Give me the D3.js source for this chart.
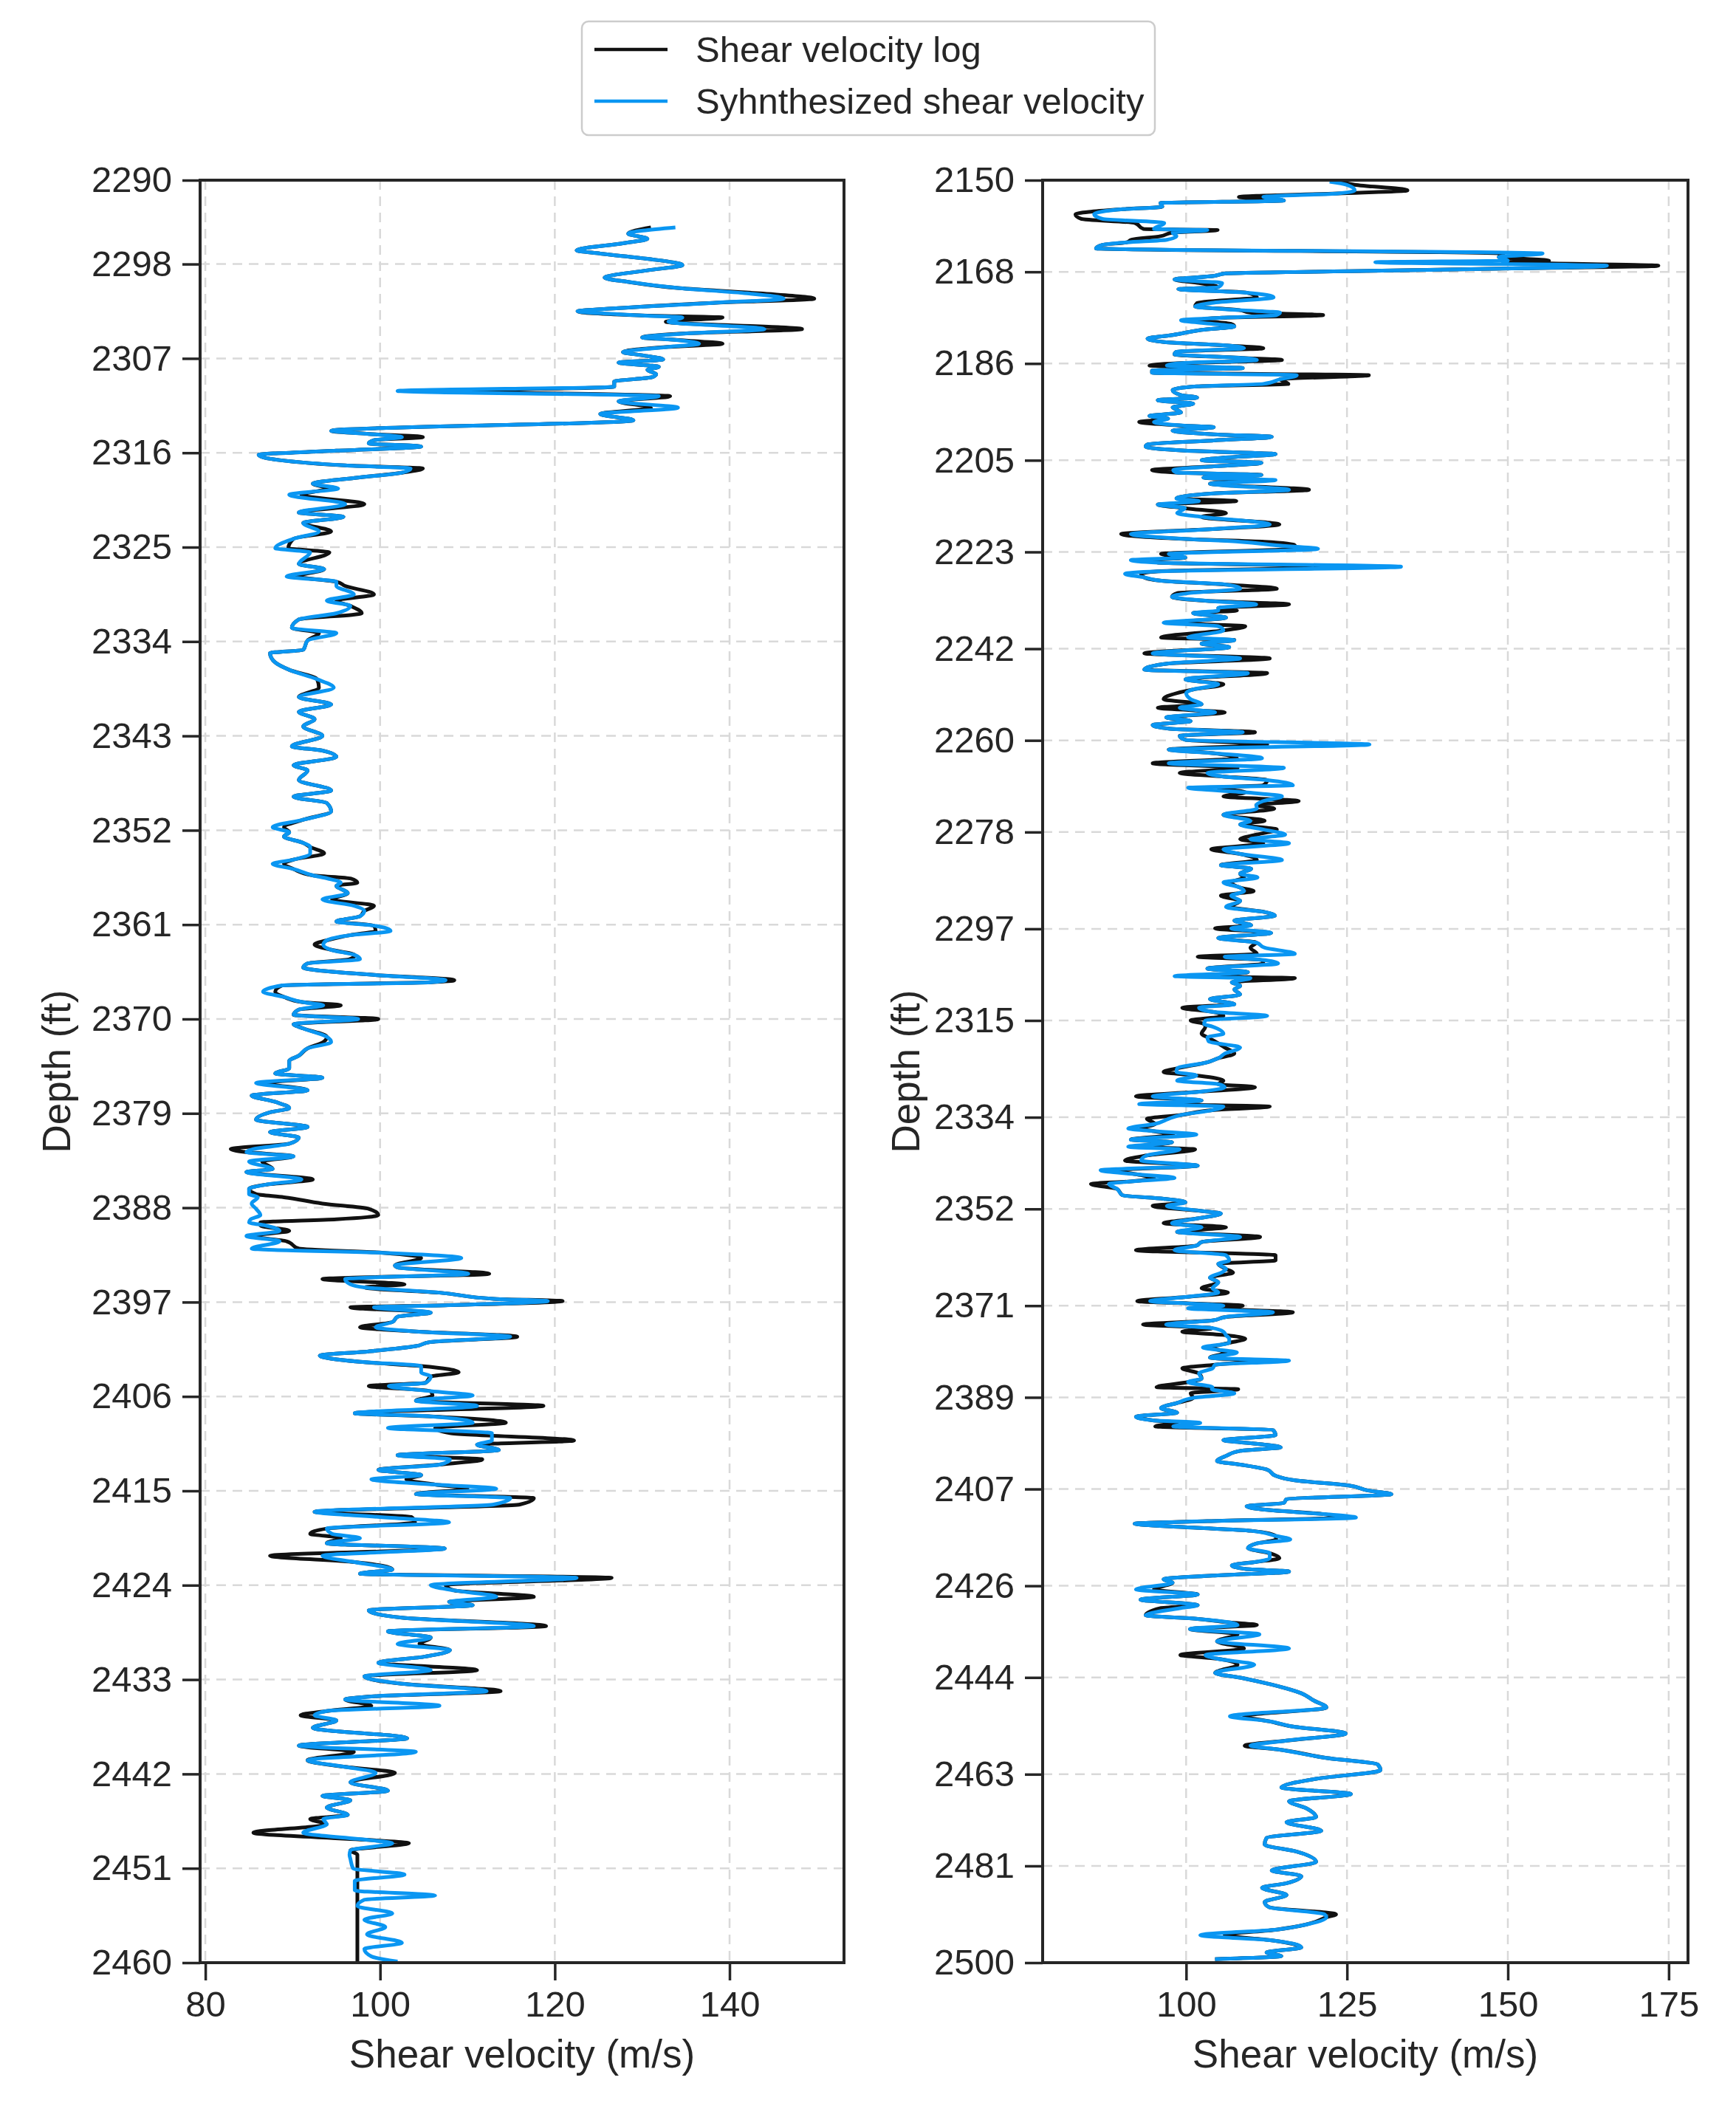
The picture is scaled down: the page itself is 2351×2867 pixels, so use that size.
<!DOCTYPE html>
<html>
<head>
<meta charset="utf-8">
<script src="https://cdn.jsdelivr.net/npm/d3@7"></script>
<style>
  body { margin: 0; background: #ffffff; }
  svg text { font-family: "Liberation Sans", Arial, sans-serif; fill: #262626; }
</style>
</head>
<body>
<div id="chart"></div>
<script>
// depth logs (ft, m/s)

var leftDepth = [
  2294.5,2295.1,2295.6,2296.0,2296.7,2297.0,2297.5,2298.1,2298.6,2299.3,
  2299.7,2300.3,2300.8,2301.3,2301.7,2302.2,2302.5,2302.9,2303.1,2303.5,
  2304.2,2304.6,2305.0,2305.2,2305.6,2305.9,2306.4,2306.7,2307.1,2307.4,
  2307.8,2308.1,2308.5,2308.8,2309.2,2309.7,2310.1,2310.6,2311.1,2311.7,
  2312.3,2312.9,2313.9,2314.2,2314.5,2314.8,2315.1,2315.4,2315.8,2316.2,
  2316.7,2317.2,2317.5,2317.9,2318.4,2318.95,2319.4,2320.0,2320.9,2321.7,
  2322.1,2322.7,2323.5,2324.2,2325.1,2325.5,2326.6,2327.1,2327.8,2328.3,
  2328.7,2329.5,2330.1,2330.6,2331.3,2331.9,2332.7,2333.2,2333.9,2334.8,
  2335.1,2336.0,2336.7,2337.6,2338.4,2339.3,2340.0,2340.7,2341.4,2342.1,
  2343.0,2344.0,2344.4,2345.0,2345.8,2346.3,2347.2,2348.2,2348.8,2349.4,
  2350.2,2351.0,2351.7,2352.2,2352.6,2353.2,2353.6,2354.2,2354.8,2355.2,
  2355.7,2356.3,2356.6,2357.0,2357.3,2358.0,2358.6,2359.2,2359.7,2360.2,
  2360.7,2361.1,2361.6,2362.0,2362.5,2362.9,2363.4,2363.9,2364.3,2364.7,
  2365.1,2365.3,2365.8,2366.3,2366.5,2366.8,2367.4,2367.9,2368.4,2368.7,
  2369.1,2369.6,2370.0,2370.5,2370.9,2371.7,2372.2,2372.8,2373.5,2374.0,
  2374.7,2375.2,2375.6,2376.1,2376.8,2377.3,2377.9,2378.5,2378.9,2379.6,
  2380.3,2380.8,2381.3,2381.9,2382.4,2382.7,2383.1,2383.6,2384.3,2384.6,
  2385.3,2385.8,2386.2,2386.7,2387.0,2387.6,2388.1,2388.7,2389.1,2389.4,
  2389.7,2390.2,2390.7,2391.2,2391.9,2392.3,2392.8,2393.5,2393.7,2394.3,
  2394.8,2395.3,2395.6,2396.1,2396.7,2396.9,2397.3,2397.5,2398.0,2398.4,
  2398.9,2399.4,2399.8,2400.3,2400.8,2401.2,2401.7,2402.1,2402.7,2403.1,
  2403.7,2404.1,2404.7,2405.0,2405.5,2405.9,2406.4,2406.9,2407.6,2407.9,
  2408.5,2409.0,2409.5,2410.2,2410.6,2411.1,2411.6,2412.0,2412.5,2413.0,
  2413.5,2413.9,2414.4,2414.8,2415.3,2415.7,2416.3,2417.0,2417.5,2418.0,
  2418.6,2419.1,2419.5,2420.0,2420.5,2421.2,2421.8,2422.5,2422.9,2423.3,
  2424.0,2424.5,2425.1,2425.6,2425.9,2426.4,2427.1,2427.9,2428.4,2429.0,
  2429.6,2430.2,2430.8,2431.4,2432.1,2432.7,2433.4,2434.1,2434.6,2434.9,
  2435.5,2436.0,2436.4,2436.9,2437.6,2438.6,2439.3,2439.9,2440.7,2441.3,
  2441.9,2442.8,2443.6,2444.1,2444.5,2445.2,2445.9,2446.3,2446.8,2447.6,
  2448.3,2448.6,2449.3,2449.7,2450.1,2451.0,2451.6,2452.2,2453.1,2453.6,
  2454.0,2454.6,2455.3,2455.9,2456.6,2457.3,2458.1,2458.7,2459.4,2459.9
];

var leftLog = [
  131.0,128.4,130.6,127.9,122.5,125.2,130.6,134.6,130.6,125.7,
  128.4,134.3,143.5,149.7,138.1,127.3,122.6,130.0,139.2,132.7,
  148.3,135.4,130.0,133.2,139.2,133.0,127.8,130.0,132.4,127.3,
  131.9,130.6,131.6,131.1,126.8,126.8,109.0,133.2,127.3,131.0,
  125.2,129.0,94.4,98.7,104.9,99.3,98.7,104.7,95.0,86.1,
  88.5,96.0,104.9,102.5,97.1,92.3,94.0,91.0,98.2,90.7,
  95.8,91.2,94.4,90.1,89.5,94.2,90.7,93.6,90.5,95.0,
  96.0,99.3,95.0,96.6,97.9,90.7,89.9,93.0,91.7,91.2,
  87.4,88.0,89.6,92.8,93.0,90.7,94.4,90.7,92.5,91.2,
  93.4,89.9,93.4,95.0,90.1,91.7,90.7,94.4,90.1,93.9,
  94.4,91.2,89.0,89.6,89.0,91.2,92.0,93.6,90.1,89.0,
  90.1,92.3,96.6,97.4,95.0,96.3,94.5,99.3,98.2,97.7,
  95.0,99.3,99.5,96.6,93.9,92.5,94.4,97.1,96.5,91.7,
  91.2,92.3,99.3,108.5,105.8,88.8,88.0,89.0,91.2,95.5,
  90.7,90.1,99.8,90.1,91.2,93.9,93.5,91.7,90.7,89.6,
  89.6,88.0,93.4,87.0,91.7,85.3,88.0,89.6,87.4,85.8,
  91.7,87.4,90.7,89.6,82.9,84.7,90.1,86.5,87.7,84.7,
  92.3,86.9,85.0,85.8,89.0,93.4,98.7,99.8,95.0,86.3,
  86.3,89.6,85.3,89.3,90.7,100.4,104.7,101.7,102.0,112.5,
  93.4,102.8,98.2,106.8,113.3,120.9,107.4,96.6,105.8,102.0,
  101.4,97.7,104.1,115.7,105.8,104.1,98.7,93.1,97.7,104.7,
  109.0,105.8,105.2,98.7,105.8,106.0,104.1,118.7,97.1,105.8,
  114.4,106.3,108.0,122.2,111.1,113.6,102.0,111.7,106.8,99.8,
  104.7,103.0,106.3,110.0,104.1,117.6,116.0,92.5,103.6,104.0,
  93.9,92.0,95.5,93.9,107.4,87.4,97.1,101.4,97.7,126.5,
  107.5,108.5,117.6,107.9,110.6,98.7,102.5,119.0,100.9,105.8,
  104.5,108.0,105.2,99.8,111.1,98.2,102.5,113.8,99.3,96.0,
  99.0,93.9,90.9,95.0,92.3,103.1,90.7,97.0,91.7,95.8,
  101.7,96.6,100.9,93.4,96.6,93.9,96.3,92.0,93.9,85.5,
  98.7,103.3,96.6,97.4,97.4,97.4,97.4,97.4,97.4,97.4,
  97.4,97.4,97.4,97.4,97.4,97.4,97.4,97.4,97.4,97.4
];

var leftSynth = [
  133.8,128.4,130.6,127.9,122.5,125.2,130.6,134.6,130.6,125.7,
  128.4,134.3,142.0,146.2,138.1,127.3,122.6,130.0,134.6,133.0,
  144.0,135.4,130.0,133.2,136.5,133.0,127.8,130.0,132.4,127.3,
  131.9,130.6,131.6,131.1,126.8,126.8,102.0,131.9,127.3,134.1,
  125.2,129.0,94.4,98.7,102.5,99.3,98.7,104.7,95.0,86.1,
  88.5,96.0,103.5,102.5,97.1,92.3,95.2,89.6,96.0,90.7,
  95.8,91.2,93.0,90.1,88.0,92.0,90.7,93.6,89.3,95.0,
  95.0,97.0,93.9,96.6,95.0,90.7,89.9,95.0,91.7,91.2,
  87.4,88.0,89.6,92.8,94.7,90.7,94.4,90.7,92.5,91.2,
  93.4,89.9,93.4,95.0,90.1,91.7,90.7,94.4,90.1,93.9,
  94.4,91.2,87.7,89.6,89.0,91.2,92.0,92.0,90.1,87.7,
  90.1,92.3,94.0,95.5,95.0,96.3,93.4,97.0,98.2,97.7,
  95.0,99.3,101.2,96.6,93.9,93.5,94.4,97.1,97.7,91.7,
  91.2,92.3,99.3,107.5,105.8,88.8,86.6,89.0,91.2,93.5,
  90.7,90.1,97.5,90.1,91.2,93.9,94.4,91.7,90.7,89.6,
  89.6,88.0,93.4,85.8,91.7,85.3,88.0,89.6,87.4,85.8,
  91.7,87.4,90.7,89.6,85.5,84.7,90.1,85.0,87.7,84.7,
  91.0,86.9,85.0,85.0,86.0,85.3,85.8,86.3,85.2,85.0,
  86.9,88.5,84.7,88.5,85.3,100.4,109.3,101.7,102.0,110.1,
  96.0,96.6,98.2,106.8,113.3,119.2,107.4,99.3,105.8,102.0,
  101.4,99.5,104.1,114.9,105.8,104.1,98.7,93.1,97.7,104.7,
  104.7,105.8,105.2,101.0,105.8,110.6,104.1,111.1,97.1,105.8,
  110.6,100.9,112.8,112.8,111.1,113.6,102.0,108.0,106.8,99.8,
  104.7,99.0,106.3,113.3,104.1,114.9,113.0,92.5,100.0,107.9,
  93.9,94.5,97.7,93.9,107.4,93.4,97.1,101.4,97.7,122.5,
  105.8,108.5,113.3,107.9,110.6,98.7,102.5,117.6,100.9,105.8,
  102.0,108.0,105.2,99.8,105.8,98.2,102.5,112.2,99.3,96.0,
  106.8,93.9,92.5,95.0,92.3,103.1,90.7,104.1,91.7,95.8,
  99.5,96.6,100.9,93.4,96.6,93.9,96.3,93.5,93.9,91.2,
  98.7,101.4,96.6,96.5,96.6,96.9,102.8,97.1,97.1,106.3,
  98.2,97.4,101.4,98.2,100.6,98.5,102.5,98.2,99.0,102.0
];

var rightDepth = [
  2150.3,2150.9,2152.0,2152.6,2153.3,2154.0,2154.5,2155.2,2155.7,2156.7,
  2157.6,2158.4,2159.6,2159.8,2160.3,2161.0,2161.7,2162.2,2162.7,2163.4,
  2164.4,2165.1,2165.8,2166.1,2166.8,2167.3,2167.8,2168.3,2168.8,2169.5,
  2170.2,2171.0,2171.4,2172.1,2173.0,2174.1,2174.8,2175.5,2176.0,2176.5,
  2177.0,2177.5,2178.2,2178.7,2179.4,2180.4,2181.1,2181.8,2182.5,2183.0,
  2183.7,2184.2,2184.9,2185.3,2185.9,2186.4,2186.9,2187.4,2187.8,2188.3,
  2189.1,2190.0,2190.5,2191.2,2192.2,2192.7,2193.2,2193.9,2194.6,2195.6,
  2196.3,2196.8,2197.5,2198.2,2198.5,2199.2,2199.9,2200.4,2201.1,2201.9,
  2202.3,2203.1,2203.8,2204.5,2205.0,2205.5,2206.2,2206.9,2207.4,2207.9,
  2208.4,2208.9,2209.6,2210.8,2211.5,2212.5,2213.0,2213.7,2214.4,2215.4,
  2216.1,2217.6,2218.5,2219.5,2220.5,2221.0,2221.7,2222.4,2223.4,2224.1,
  2224.6,2225.1,2225.9,2226.8,2227.3,2228.0,2228.7,2229.4,2230.2,2231.1,
  2231.8,2232.6,2233.3,2234.0,2234.5,2235.0,2235.9,2236.9,2237.6,2238.4,
  2239.8,2240.3,2241.0,2241.7,2242.9,2243.9,2244.9,2246.1,2246.8,2248.0,
  2249.0,2250.0,2250.7,2251.9,2252.9,2253.6,2254.5,2255.5,2256.2,2257.0,
  2257.7,2258.4,2259.1,2259.9,2260.8,2261.8,2262.5,2263.5,2264.5,2265.4,
  2266.4,2267.1,2267.8,2268.8,2269.3,2270.2,2271.0,2271.9,2272.7,2273.4,
  2274.6,2275.8,2276.5,2277.5,2278.5,2279.4,2280.2,2281.4,2282.3,2283.5,
  2284.5,2285.2,2286.2,2286.9,2287.9,2288.9,2289.6,2290.5,2291.5,2292.7,
  2293.7,2294.4,2295.4,2296.3,2296.9,2297.8,2298.8,2299.7,2300.7,2301.9,
  2302.5,2303.1,2303.8,2304.8,2305.5,2306.3,2306.7,2307.5,2308.2,2308.9,
  2309.9,2310.8,2311.8,2312.5,2313.3,2314.1,2315.0,2315.7,2316.2,2317.6,
  2318.3,2319.1,2320.3,2321.5,2322.4,2323.2,2324.4,2325.1,2325.8,2326.8,
  2327.5,2328.1,2329.0,2329.9,2330.7,2331.4,2331.9,2332.6,2333.6,2334.3,
  2335.3,2336.2,2336.7,2337.4,2338.4,2338.9,2339.8,2340.3,2341.5,2342.5,
  2343.5,2344.4,2345.2,2345.9,2346.6,2347.1,2348.1,2349.3,2350.0,2350.7,
  2351.4,2352.4,2352.9,2353.9,2354.8,2355.6,2356.5,2357.5,2358.5,2359.2,
  2360.1,2361.1,2362.1,2362.8,2363.8,2364.5,2365.5,2366.4,2367.6,2368.4,
  2369.3,2370.1,2371.0,2371.5,2372.3,2373.2,2373.9,2374.7,2375.4,2376.1,
  2376.8,2377.5,2378.3,2379.2,2380.2,2381.2,2381.8,2382.6,2383.3,2384.3,
  2385.3,2386.0,2387.0,2387.4,2388.2,2389.1,2390.1,2391.1,2392.0,2392.8,
  2393.5,2394.0,2394.7,2395.4,2396.4,2397.4,2398.1,2398.8,2399.5,2400.5,
  2401.5,2402.2,2403.2,2404.4,2405.3,2406.3,2407.3,2408.0,2409.0,2409.7,
  2410.4,2411.1,2411.9,2412.6,2413.3,2413.8,2414.5,2415.2,2416.2,2416.9,
  2417.7,2418.6,2419.6,2420.6,2421.3,2422.0,2422.7,2423.2,2424.0,2424.7,
  2425.4,2426.7,2427.7,2428.7,2429.8,2430.4,2431.8,2432.5,2433.2,2433.7,
  2434.5,2435.5,2436.9,2438.3,2439.6,2440.3,2441.5,2443.1,2444.1,2445.4,
  2447.1,2448.5,2449.9,2451.6,2452.6,2453.6,2455.0,2456.4,2457.4,2458.1,
  2459.8,2461.1,2462.2,2463.9,2465.6,2466.9,2468.3,2469.7,2471.4,2472.4,
  2474.1,2475.5,2476.8,2478.2,2480.2,2481.9,2483.0,2484.4,2485.3,2486.7,
  2488.1,2489.1,2490.5,2491.1,2492.5,2493.5,2494.6,2495.6,2497.0,2498.0,
  2498.7,2499.3
];

var rightLog = [
  123.9,126.2,134.4,123.6,108.2,115.2,96.0,96.3,90.2,82.8,
  83.7,92.0,93.4,104.9,97.9,96.0,91.5,90.8,87.0,86.0,
  149.3,148.6,156.4,150.0,173.4,152.5,128.7,106.2,104.3,98.2,
  102.0,105.0,98.8,109.4,111.0,101.7,101.4,108.2,110.0,121.3,
  105.6,102.0,106.9,107.5,102.4,97.9,94.0,96.6,106.9,112.0,
  98.5,98.2,108.8,114.9,99.8,94.3,108.8,94.7,94.7,128.4,
  114.6,115.9,101.7,97.9,99.2,101.7,95.6,101.1,97.9,99.2,
  94.3,97.2,92.7,99.8,104.3,97.9,104.3,113.3,104.3,94.0,
  93.7,99.8,113.9,105.6,102.4,111.7,104.3,94.7,98.5,111.7,
  102.7,110.0,103.7,119.1,104.3,98.5,107.8,95.6,99.8,106.2,
  102.4,114.5,104.1,89.9,100.7,112.2,116.9,116.0,96.1,99.9,
  95.0,95.6,127.5,95.6,93.0,93.5,96.5,106.2,114.1,98.6,
  97.8,103.3,116.0,105.0,107.9,101.1,106.2,98.0,109.2,105.8,
  96.1,107.5,102.4,106.7,93.5,113.0,97.3,93.5,112.6,99.9,
  105.8,101.1,98.6,96.5,102.4,95.6,106.0,96.9,100.7,94.8,
  97.3,110.7,99.0,99.9,112.6,97.3,104.1,107.9,94.8,108.0,
  99.0,105.8,112.6,112.0,105.0,109.2,105.8,117.5,110.9,113.7,
  105.8,112.2,108.4,114.1,111.0,108.4,112.0,103.9,108.4,111.0,
  105.4,110.1,108.4,109.0,107.0,108.4,110.5,105.4,108.4,107.0,
  112.2,113.8,107.5,110.1,104.5,113.2,105.0,110.9,110.0,111.0,
  101.8,111.8,112.0,103.3,109.6,104.0,116.9,107.1,108.4,107.5,
  108.4,103.7,107.5,99.4,104.1,105.8,100.7,102.8,103.0,102.4,
  103.3,104.5,106.0,107.5,105.0,103.3,98.6,96.5,101.6,105.8,
  105.0,110.7,102.0,92.2,102.4,96.0,113.0,104.1,99.0,93.9,
  95.2,93.0,94.8,98.0,91.4,97.8,93.0,101.4,93.9,90.5,
  101.8,89.0,92.2,95.0,91.4,85.2,89.3,90.1,96.5,99.9,
  94.8,102.4,105.4,101.6,96.5,106.2,98.6,111.5,102.4,101.6,
  92.2,113.9,113.9,105.0,106.2,107.3,103.7,105.0,102.4,106.5,
  99.9,92.4,108.8,104.0,116.6,106.2,104.1,93.3,104.1,99.4,
  106.2,109.2,106.7,104.0,106.2,103.7,110.9,104.5,99.4,102.0,
  102.4,100.3,95.4,108.1,100.7,101.1,98.6,96.1,98.6,92.2,
  94.8,98.6,95.2,113.5,113.9,105.8,110.9,114.7,108.4,106.2,
  104.8,108.4,112.6,113.9,116.9,125.3,128.3,131.9,115.6,115.2,
  109.4,112.6,121.1,123.6,103.3,92.0,99.9,110.1,113.9,114.0,
  110.9,109.6,113.0,114.5,110.9,107.1,109.2,116.0,104.1,96.5,
  97.9,95.0,101.8,92.9,101.8,96.0,93.7,101.8,106.8,111.0,
  100.6,108.0,104.8,109.0,99.1,104.8,108.0,104.5,108.7,113.3,
  117.9,119.8,121.8,109.0,112.9,116.4,124.8,115.6,109.1,114.1,
  121.8,129.8,130.2,120.2,114.8,125.6,116.0,118.7,120.2,115.6,
  121.0,112.5,112.2,117.2,120.2,113.3,117.9,115.6,111.8,115.6,
  112.2,112.9,123.3,121.8,118.7,114.1,106.0,113.3,117.9,112.5,
  114.8,104.5
];

var rightSynth = [
  122.3,124.9,126.2,123.6,112.0,115.2,96.0,96.3,90.2,85.7,
  87.0,96.6,95.0,103.3,97.9,98.5,97.0,90.8,87.0,86.0,
  155.4,148.6,150.0,129.4,165.4,152.5,128.7,106.2,104.3,98.2,
  105.6,105.0,98.8,109.4,113.6,104.0,101.4,108.2,114.6,114.0,
  105.6,99.2,104.0,107.5,102.4,97.9,94.0,96.6,106.9,109.0,
  98.5,98.2,108.8,111.0,99.8,97.0,108.8,94.7,94.7,117.2,
  114.6,112.0,101.7,97.9,99.2,101.7,95.6,101.1,97.9,99.2,
  94.3,97.2,95.0,99.8,104.3,97.9,104.3,113.3,104.3,94.0,
  93.7,99.8,113.9,105.6,102.4,111.7,104.3,98.0,98.5,111.7,
  102.7,113.9,103.7,116.0,104.3,98.5,102.0,95.6,99.8,98.6,
  102.4,113.0,104.1,91.4,100.7,108.4,114.0,120.5,97.3,99.9,
  91.4,95.6,133.4,95.6,90.5,93.5,96.5,106.2,108.4,100.3,
  97.8,103.3,110.9,105.0,105.0,101.1,106.2,96.5,105.0,105.8,
  100.3,107.5,102.4,106.7,94.8,108.4,97.3,93.5,109.6,99.9,
  105.0,101.1,100.0,100.7,102.4,99.0,104.5,96.9,100.7,94.8,
  97.3,108.8,99.0,99.9,128.5,97.3,104.1,111.8,97.3,115.2,
  103.3,105.8,112.6,116.6,100.3,109.2,114.9,112.0,110.9,111.0,
  105.8,110.0,108.4,112.0,115.4,110.0,116.0,105.8,108.4,114.9,
  105.4,110.1,108.4,111.1,105.8,108.4,109.0,107.0,108.4,106.2,
  112.2,113.8,107.5,110.1,107.0,113.2,105.0,110.9,112.2,116.9,
  106.0,111.8,114.3,103.3,109.6,98.2,110.0,107.1,108.4,107.5,
  108.4,103.7,107.5,102.0,104.1,112.6,103.0,102.8,104.1,105.8,
  103.3,103.5,108.4,106.0,105.0,103.3,98.6,98.5,101.6,98.6,
  105.0,106.0,102.0,94.8,102.4,92.7,105.8,104.1,99.0,97.3,
  95.2,91.0,94.8,101.6,91.4,97.8,91.0,99.0,93.9,93.0,
  101.8,86.7,92.2,98.2,91.4,88.0,89.3,90.1,96.5,99.9,
  97.0,102.4,105.4,101.6,97.8,102.4,98.6,108.4,102.4,101.6,
  98.2,106.2,106.7,105.0,106.2,105.5,103.7,105.0,104.1,105.0,
  99.9,94.4,105.8,100.3,113.5,106.2,104.1,96.9,104.1,105.8,
  106.2,106.7,106.7,102.6,107.9,103.7,116.0,104.5,104.1,102.0,
  102.4,100.3,104.1,104.0,107.5,101.1,98.6,96.1,98.6,92.2,
  94.8,102.2,98.0,113.5,113.9,105.8,110.9,114.7,108.4,106.2,
  104.8,108.4,112.6,113.9,116.9,125.3,128.3,131.9,115.6,115.2,
  109.4,112.6,121.1,126.4,103.3,92.0,99.9,110.1,113.9,116.2,
  110.9,109.6,113.0,113.0,110.9,107.1,109.2,116.0,104.1,96.5,
  97.9,92.2,101.8,92.9,101.8,99.0,93.7,101.8,106.8,108.0,
  100.6,111.4,104.8,116.0,103.0,104.8,110.6,104.5,108.7,113.3,
  117.9,119.8,121.8,106.8,112.9,116.4,124.8,115.6,110.0,114.1,
  121.8,129.8,130.2,120.2,114.8,125.6,116.0,118.7,120.2,115.6,
  121.0,112.5,112.2,117.2,120.2,113.3,117.9,115.6,111.8,115.6,
  112.2,112.9,121.5,121.8,118.7,114.1,102.2,113.3,117.9,112.5,
  114.8,104.5
];

var leftDepthTicks = [2290, 2298, 2307, 2316, 2325, 2334, 2343, 2352, 2361, 2370,
  2379, 2388, 2397, 2406, 2415, 2424, 2433, 2442, 2451, 2460];
var rightDepthTicks = [2150, 2168, 2186, 2205, 2223, 2242, 2260, 2278, 2297, 2315,
  2334, 2352, 2371, 2389, 2407, 2426, 2444, 2463, 2481, 2500];
var leftVelTicks = [80, 100, 120, 140];
var rightVelTicks = [100, 125, 150, 175];

var seriesNames = ['Shear velocity log', 'Syhnthesized shear velocity'];
var seriesColors = ['#111111', '#0a96f2'];

var figure = { width: 2351, height: 2867, top: 244, bottom: 2658 };

var panels = [
  { depth: leftDepth, log: leftLog, synth: leftSynth,
    depthTicks: leftDepthTicks, velTicks: leftVelTicks,
    left: 271, right: 1143, velDomain: [79.4, 153.1], depthDomain: [2290, 2460],
    ylabelX: 95 },
  { depth: rightDepth, log: rightLog, synth: rightSynth,
    depthTicks: rightDepthTicks, velTicks: rightVelTicks,
    left: 1412, right: 2286, velDomain: [77.7, 178], depthDomain: [2150, 2500],
    ylabelX: 1245 }
];

var svg = d3.select('#chart').append('svg')
  .attr('width', figure.width)
  .attr('height', figure.height)
  .style('display', 'block')
  .style('background', '#ffffff');

var styleAxis = function(g) {
  g.select('.domain').remove();
  g.selectAll('.tick line').attr('stroke', '#262626').attr('stroke-width', 3.5);
  g.selectAll('.tick text').attr('fill', '#262626').style('font-size', '49px');
};

var drawPanel = function(p) {
  var x = d3.scaleLinear().domain(p.velDomain).range([p.left, p.right]);
  var y = d3.scaleLinear().domain(p.depthDomain).range([figure.top, figure.bottom]);
  var g = svg.append('g');

  // dashed grid
  g.append('g').selectAll('line.hgrid').data(p.depthTicks).enter().append('line')
    .attr('x1', p.left).attr('x2', p.right)
    .attr('y1', function(d) { return y(d); })
    .attr('y2', function(d) { return y(d); })
    .attr('stroke', '#d9d9d9').attr('stroke-width', 2.5)
    .attr('stroke-dasharray', '13,9');
  g.append('g').selectAll('line.vgrid').data(p.velTicks).enter().append('line')
    .attr('y1', figure.top).attr('y2', figure.bottom)
    .attr('x1', function(d) { return x(d); })
    .attr('x2', function(d) { return x(d); })
    .attr('stroke', '#d9d9d9').attr('stroke-width', 2.5)
    .attr('stroke-dasharray', '13,9');

  var makeLine = function(values) {
    return d3.line()
      .x(function(d, i) { return x(values[i]); })
      .y(function(d) { return y(d); })
      .curve(d3.curveMonotoneY)(p.depth);
  };

  g.append('path').attr('d', makeLine(p.log))
    .attr('fill', 'none').attr('stroke', seriesColors[0])
    .attr('stroke-width', 5).attr('stroke-linejoin', 'round');
  g.append('path').attr('d', makeLine(p.synth))
    .attr('fill', 'none').attr('stroke', seriesColors[1])
    .attr('stroke-width', 5).attr('stroke-linejoin', 'round');

  g.append('g').attr('transform', 'translate(' + p.left + ',0)')
    .call(d3.axisLeft(y).tickValues(p.depthTicks).tickFormat(d3.format('d'))
      .tickSize(24).tickPadding(14))
    .call(styleAxis);
  g.append('g').attr('transform', 'translate(0,' + figure.bottom + ')')
    .call(d3.axisBottom(x).tickValues(p.velTicks).tickFormat(d3.format('d'))
      .tickSize(24).tickPadding(14))
    .call(styleAxis);

  g.append('rect')
    .attr('x', p.left).attr('y', figure.top)
    .attr('width', p.right - p.left).attr('height', figure.bottom - figure.top)
    .attr('fill', 'none').attr('stroke', '#262626').attr('stroke-width', 4);

  g.append('text')
    .attr('x', (p.left + p.right) / 2).attr('y', 2800)
    .attr('text-anchor', 'middle').style('font-size', '53px')
    .text('Shear velocity (m/s)');
  g.append('text')
    .attr('transform', 'translate(' + p.ylabelX + ',' + (figure.top + figure.bottom) / 2 + ') rotate(-90)')
    .attr('text-anchor', 'middle').style('font-size', '53px')
    .text('Depth (ft)');
};

panels.forEach(drawPanel);

// legend, centred at the top of the figure
var legend = svg.append('g');
legend.append('rect')
  .attr('x', 788).attr('y', 29).attr('width', 776).attr('height', 154)
  .attr('rx', 9).attr('fill', '#ffffff')
  .attr('stroke', '#cccccc').attr('stroke-width', 2.5);
seriesNames.forEach(function(name, i) {
  var cy = 67 + i * 70;
  legend.append('line')
    .attr('x1', 805).attr('x2', 904).attr('y1', cy).attr('y2', cy)
    .attr('stroke', seriesColors[i]).attr('stroke-width', 4.5);
  legend.append('text')
    .attr('x', 942).attr('y', cy + 17)
    .style('font-size', '49px')
    .text(name);
});
</script>
</body>
</html>
